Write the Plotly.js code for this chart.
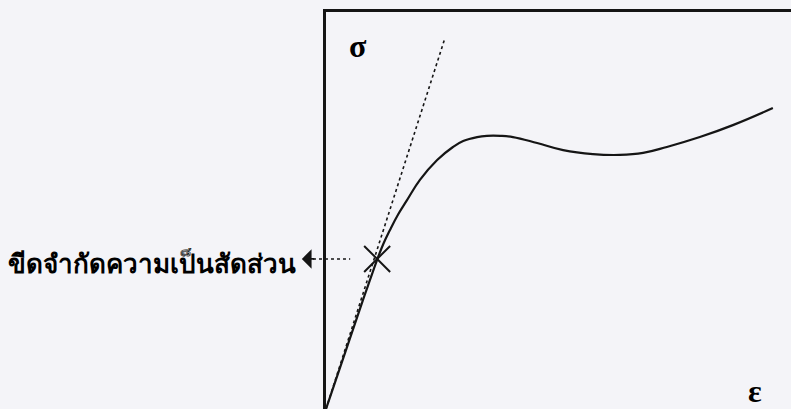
<!DOCTYPE html>
<html>
<head>
<meta charset="utf-8">
<script src="https://cdn.plot.ly/plotly-3.0.1.min.js"></script>
<style>
  html, body { margin: 0; padding: 0; background: #f4f4f8; }
  #chart { width: 791px; height: 409px; }
</style>
</head>
<body>
<div id="chart"></div>
<script>
// Stress–strain curve (arbitrary units, 0–100 on both axes)
const strain = [0, 7.96, 9.46, 10.97, 12.3, 13.76, 15.5, 17.42, 20.2, 23.9, 27.3, 29.5, 32.5, 34.6, 37.5, 40.2, 45.4, 51.0, 57.4, 63.2, 68.2, 73.3, 80.4, 87.5, 96.1];
const stress = [0, 27.5, 32.5, 37.5, 41.5, 45.1, 49.0, 52.6, 57.7, 62.7, 66.0, 67.5, 68.5, 68.8, 68.8, 68.5, 67.0, 65.2, 64.2, 64.0, 64.5, 66.0, 68.5, 71.5, 75.8];

// Tangent to the initial linear (elastic) part
const tangentStrain = [0, 25.6];
const tangentStress = [0, 93.5];

// Proportional limit
const limitStrain = [11.0];
const limitStress = [37.8];

const limitLabel = 'ขีดจำกัดความเป็นสัดส่วน';
const stressSymbol = 'σ';
const strainSymbol = 'ε';

const ink = '#151515';

const traces = [
  {
    x: tangentStrain, y: tangentStress, type: 'scatter', mode: 'lines',
    line: { color: ink, width: 1.6, dash: 'dot' }, hoverinfo: 'skip'
  },
  {
    x: strain, y: stress, type: 'scatter', mode: 'lines',
    line: { color: ink, width: 2.2, shape: 'spline', smoothing: 1.2 }, hoverinfo: 'skip'
  },
  {
    x: limitStrain, y: limitStress, type: 'scatter', mode: 'markers',
    marker: { symbol: 'x-thin-open', size: 26, color: ink, line: { color: ink, width: 2 } }, hoverinfo: 'skip'
  }
];

// pointer row height in paper units
const yRow = 0.378;

const layout = {
  width: 791, height: 409,
  margin: { l: 326, r: 0, t: 12, b: 0 },
  paper_bgcolor: '#f4f4f8',
  plot_bgcolor: '#f4f4f8',
  showlegend: false,
  xaxis: {
    range: [0, 100], side: 'top', showline: true, linecolor: ink, linewidth: 3,
    showgrid: false, zeroline: false, showticklabels: false, ticks: ''
  },
  yaxis: {
    range: [0, 100], showline: true, linecolor: ink, linewidth: 3,
    showgrid: false, zeroline: false, showticklabels: false, ticks: ''
  },
  shapes: [
    {
      type: 'line', xref: 'paper', yref: 'paper',
      x0: -0.028, x1: 0.052, y0: yRow, y1: yRow,
      line: { color: ink, width: 1.4, dash: 'dot' }
    }
  ],
  annotations: [
    {
      xref: 'paper', yref: 'paper', x: -0.052, y: yRow,
      ax: 14, ay: 0, text: '', showarrow: true,
      arrowhead: 1, arrowsize: 1.8, arrowwidth: 1.8, arrowcolor: ink
    },
    {
      xref: 'paper', yref: 'paper', x: -0.06, y: 0.368,
      xanchor: 'right', yanchor: 'middle', showarrow: false,
      text: '<b>' + limitLabel + '</b>',
      font: { family: 'Noto Sans, sans-serif', size: 26, color: '#000' }
    },
    {
      xref: 'paper', yref: 'paper', x: 0.069, y: 0.914,
      xanchor: 'center', yanchor: 'middle', showarrow: false,
      text: '<b>' + stressSymbol + '</b>',
      font: { family: 'Liberation Serif, serif', size: 32, color: '#000' }
    },
    {
      xref: 'paper', yref: 'paper', x: 0.923, y: 0.045,
      xanchor: 'center', yanchor: 'middle', showarrow: false,
      text: '<b>' + strainSymbol + '</b>',
      font: { family: 'Liberation Serif, serif', size: 32, color: '#000' }
    }
  ]
};

Plotly.newPlot('chart', traces, layout, { staticPlot: true, displayModeBar: false });
</script>
</body>
</html>
